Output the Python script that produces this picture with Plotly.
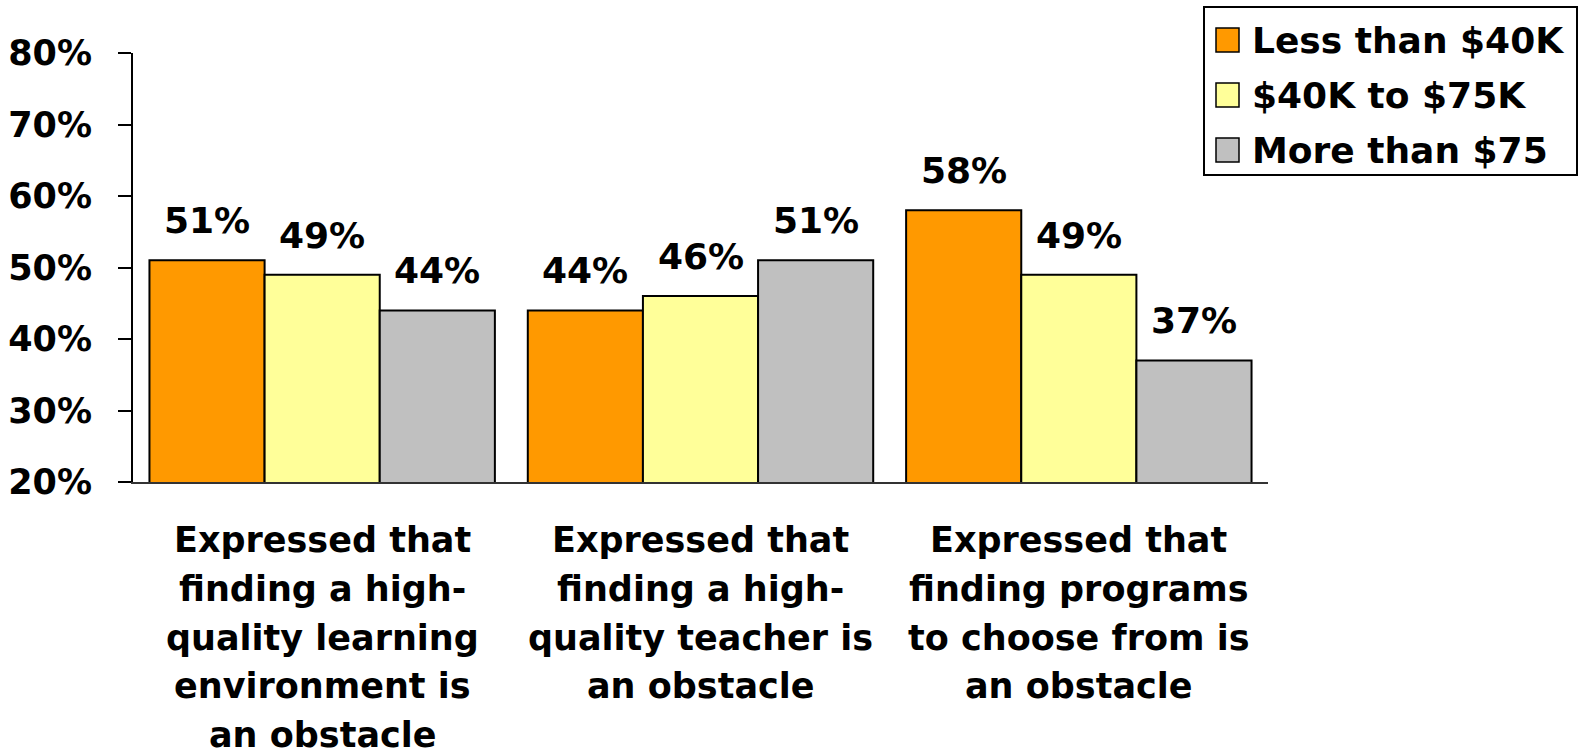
import plotly.graph_objects as go

categories = [
    "Expressed that<br>finding a high-<br>quality learning<br>environment is<br>an obstacle",
    "Expressed that<br>finding a high-<br>quality teacher is<br>an obstacle",
    "Expressed that<br>finding programs<br>to choose from is<br>an obstacle",
]
series_names = ["Less than $40K", "$40K to $75K", "More than $75"]
less_40k = [51, 44, 58]
k40_75 = [49, 46, 49]
more_75 = [44, 51, 37]
series_values = [less_40k, k40_75, more_75]
colors = ["#FF9900", "#FFFF99", "#C0C0C0"]
y_ticks = [20, 30, 40, 50, 60, 70, 80]
y_tick_labels = ["20%", "30%", "40%", "50%", "60%", "70%", "80%"]

FONT = "DejaVu Sans"
W, H = 1583, 754
L, R, T, B = 133, 315, 53, 272
PW, PH = W - L - R, H - T - B
BARGAP = 0.087
LINE_STEP = 48.75

def px_x(p):
    return (p - L) / PW

def px_y(p):
    return (H - B - p) / PH

fig = go.Figure()
for name, vals, col in zip(series_names, series_values, colors):
    fig.add_trace(go.Bar(
        x=categories, y=vals, name=name,
        marker=dict(color=col, line=dict(color="black", width=2)),
        showlegend=False,
    ))

cat_w = PW / len(categories)
bar_w = cat_w * (1 - BARGAP) / len(series_names)
annotations = []
for i, vals in enumerate(series_values):
    for c, v in zip(categories, vals):
        annotations.append(dict(
            x=c, y=v, xref="x", yref="y", text=f"<b>{v}%</b>",
            showarrow=False, yanchor="bottom", xanchor="center",
            xshift=(i - 1) * bar_w, yshift=17,
            font=dict(family=FONT, size=36, color="black"),
        ))

# category labels, one annotation per line for the wider line spacing
for c in categories:
    for j, line in enumerate(c.split("<br>")):
        annotations.append(dict(
            x=c, y=0, xref="x", yref="paper", text=f"<b>{line}</b>",
            showarrow=False, yanchor="middle", xanchor="center",
            yshift=-(58 + j * LINE_STEP),
            font=dict(family=FONT, size=35, color="black"),
        ))

# custom legend
shapes = [dict(type="rect", xref="paper", yref="paper",
               x0=px_x(1204), x1=px_x(1577), y0=px_y(175), y1=px_y(7),
               line=dict(color="black", width=2), fillcolor="white", layer="below")]
centers = [40, 95, 150]
for name, col, cy in zip(series_names, colors, centers):
    shapes.append(dict(type="rect", xref="paper", yref="paper",
                       x0=px_x(1216), x1=px_x(1239), y0=px_y(cy + 12), y1=px_y(cy - 12),
                       line=dict(color="black", width=1.5), fillcolor=col))
    annotations.append(dict(x=px_x(1250), y=px_y(cy), xref="paper", yref="paper",
                            text=f"<b>{name}</b>", showarrow=False,
                            xanchor="left", yanchor="middle",
                            font=dict(family=FONT, size=36, color="black")))

fig.update_layout(
    width=W, height=H,
    margin=dict(l=L, r=R, t=T, b=B, pad=0, autoexpand=False),
    paper_bgcolor="white", plot_bgcolor="white",
    barmode="group", bargap=BARGAP, bargroupgap=0,
    font=dict(family=FONT, color="black"),
    annotations=annotations, shapes=shapes,
    xaxis=dict(
        showline=True, linecolor="#333333", linewidth=1.5, ticks="",
        showticklabels=False, showgrid=False, automargin=False,
    ),
    yaxis=dict(
        range=[20, 80], tickvals=y_ticks, ticktext=[f"<b>{t}</b>" for t in y_tick_labels],
        showline=True, linecolor="black", linewidth=2,
        ticks="outside", ticklen=13, tickwidth=2, tickcolor="black",
        tickfont=dict(family=FONT, size=35, color="black"),
        ticklabelstandoff=19, showgrid=False, zeroline=False, automargin=False,
    ),
)

fig.write_html("out.html")
